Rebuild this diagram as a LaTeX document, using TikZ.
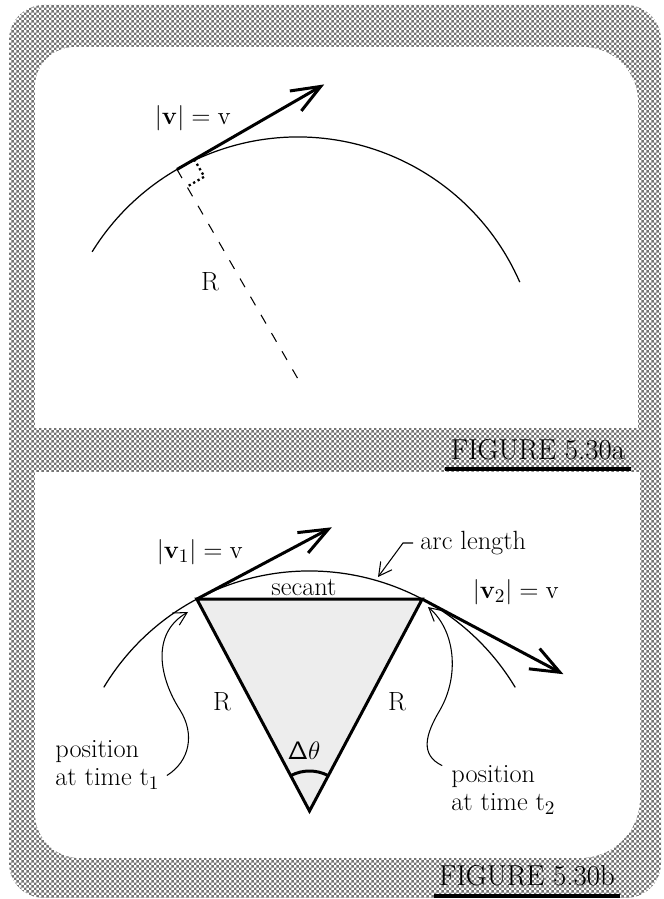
\documentclass[tikz,border=0pt]{standalone}
\usepackage{amsmath}
\usetikzlibrary{arrows.meta,patterns}

\pgfdeclarepatternformonly{finechecker}{\pgfpointorigin}{\pgfqpoint{2.8pt}{2.8pt}}{\pgfqpoint{2.8pt}{2.8pt}}{%
  \pgfpathrectangle{\pgfpointorigin}{\pgfqpoint{1.4pt}{1.4pt}}%
  \pgfpathrectangle{\pgfqpoint{1.4pt}{1.4pt}}{\pgfqpoint{1.4pt}{1.4pt}}%
  \pgfusepath{fill}}

\tikzset{
  thinarc/.style={line width=0.7pt},
  heavy/.style={line width=1.7pt},
  vecarrow/.style={line width=1.7pt, -{Straight Barb[length=0.58cm,width=0.46cm]}},
  pointer/.style={line width=0.6pt, -{Straight Barb[length=0.26cm,width=0.28cm]}},
  lbl/.style={font=\fontsize{15}{15.5}\selectfont, inner sep=0pt},
  figlbl/.style={font=\fontsize{16.4}{18}\selectfont, inner sep=0pt, anchor=base},
}

\begin{document}
\begin{tikzpicture}[x=0.02cm, y=0.02cm]
        \useasboundingbox (0,0) rectangle (663,899);

        % Panels
        \fill[pattern=finechecker, pattern color=black!55, rounded corners=0.7cm] (9,1) rectangle (661,894);
        \fill[white, rounded corners=0.8cm] (35,471) rectangle (600,852);
        \fill[white, rounded corners=1.1cm] (400,471) rectangle (638,852);
        \fill[white] (35,471) rectangle (638,700);
        \fill[white, rounded corners=0.9cm] (35,41) rectangle (600,427);
        \fill[white, rounded corners=1.2cm] (400,41) rectangle (640,427);
        \fill[white] (35,250) rectangle (640,427);

        % Figure 5.30a
        \coordinate (ca) at (298,520);
        \coordinate (ta) at ([shift={(120:242)}]ca);
        \coordinate (tipa) at ([shift={(30:170)}]ta);
        \coordinate (sqa) at (194.3,739.6);
        \coordinate (sqb) at (204.3,722.3);
        \coordinate (sqc) at (187,712.3);
        \draw[thinarc] ([shift={(23.6:242)}]ca) arc[start angle=23.6, end angle=148.3, radius=242];
        \draw[line width=0.6pt, dash pattern=on 0.2cm off 0.22cm] (ta) -- (ca);
        \draw[line width=1.3pt, dash pattern=on 1.3pt off 1.6pt] (sqa) -- (sqb) -- (sqc);
        \draw[vecarrow] (ta) -- (tipa);
        \node[lbl] (speeda) at (193,781) {$|\mathbf{v}| = \mathrm{v}$};
        \node[lbl] (rada) at (210,617) {R};

        % Figure 5.30b
        \coordinate (cb) at (309.5,88);
        \coordinate (pa) at ([shift={(118:240)}]cb);
        \coordinate (pb) at ([shift={(62:240)}]cb);
        \filldraw[fill=black!7, heavy] (pa) -- (pb) -- (cb) -- cycle;
        \draw[thinarc] ([shift={(31:240)}]cb) arc[start angle=31, end angle=149, radius=240];
        \draw[heavy] ([shift={(62:40)}]cb) arc[start angle=62, end angle=118, radius=40];
        \draw[vecarrow] (pa) -- ([shift={(28:153)}]pa);
        \draw[vecarrow] (pb) -- ([shift={(-28:160)}]pb);

        % Labels
        \node[lbl] (speedb1) at (200,347) {$|\mathbf{v}_1| = \mathrm{v}$};
        \node[lbl] (speedb2) at (516,307) {$|\mathbf{v}_2| = \mathrm{v}$};
        \node[lbl] (seclbl) at (304,311) {secant};
        \node[lbl] (radb1) at (222,197) {R};
        \node[lbl] (radb2) at (397,197) {R};
        \node[lbl] (dtheta) at (304,148) {$\mathsf{\Delta}\mathrm{\theta}$};
        \node[lbl, inner xsep=4pt, anchor=west] (arclen) at (413,356) {arc length};
        \node[lbl, anchor=west, align=left] (posa) at (55,134) {position\\at time t$_1$};
        \node[lbl, anchor=west, align=left] (posb) at (451,109) {position\\at time t$_2$};

        % Pointers
        \coordinate (arcbend) at (403,356);
        \coordinate (arcpt) at (378,322);
        \coordinate (posapt) at (188,287);
        \coordinate (posbpt) at (428,292);
        \draw[pointer] (arclen.west) -- (arcbend) -- (arcpt);
        \draw[pointer] ([xshift=4pt,yshift=-6pt]posa.east) .. controls (190,138) and (195,165) .. (180,189)
              .. controls (160,220) and (150,265) .. (posapt);
        \draw[pointer] ([xshift=-5pt]posb.north west) .. controls (420,144) and (425,164) .. (440,189)
              .. controls (460,224) and (455,269) .. (posbpt);

        % Figure captions
        \node[figlbl] (figa) at (538,439) {FIGURE 5.30a};
        \node[figlbl] (figb) at (527,13) {FIGURE 5.30b};
        \draw[line width=2.3pt] ([xshift=-3pt,yshift=-4.5pt]figa.south west) -- ([xshift=3pt,yshift=-4.5pt]figa.south east);
        \draw[line width=2.3pt] ([xshift=-3pt,yshift=-5pt]figb.south west) -- ([xshift=3pt,yshift=-5pt]figb.south east);
\end{tikzpicture}
\end{document}
